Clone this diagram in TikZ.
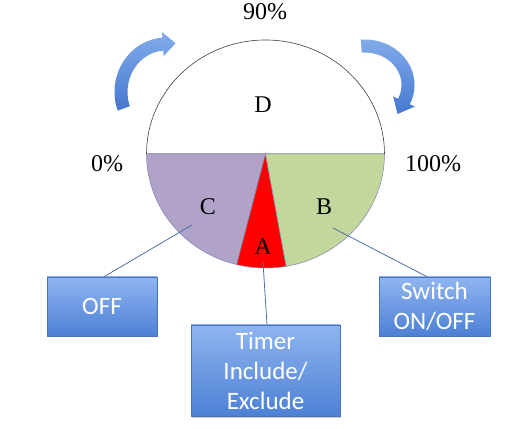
\documentclass[tikz,border=0pt]{standalone}
\usepackage{fontspec}
\setmainfont{Liberation Serif}
\newfontfamily\boxfont{Carlito}
\usetikzlibrary{calc,shadows}
\definecolor{cpurple}{HTML}{B1A2C7}
\definecolor{cgreen}{HTML}{C3D69B}
\definecolor{boxtop}{HTML}{8FB5F0}
\definecolor{boxbot}{HTML}{4D80D5}
\definecolor{boxline}{HTML}{4A72B8}
\definecolor{connc}{HTML}{4F6FA8}
\definecolor{arrlight}{HTML}{82ACEA}
\definecolor{arrdark}{HTML}{4578D0}
\definecolor{rim}{HTML}{404040}
\definecolor{sector}{HTML}{7F86B0}
\begin{document}
\begin{tikzpicture}[x=1pt,y=1pt,
  lbl/.style={font=\fontsize{24}{28}\selectfont, inner sep=0pt},
  infobox/.style={rectangle, draw=boxline, line width=0.6pt, top color=boxtop, bottom color=boxbot, text=white, font=\boxfont\fontsize{25}{30}\selectfont, align=center, inner sep=0pt, general shadow={fill=black!20, shadow xshift=1.2pt, shadow yshift=-1.5pt}},
  link/.style={draw=connc, line width=0.8pt},
  sec/.style={draw=sector, line width=0.5pt},
  bluearrow/.style={top color=arrlight, bottom color=arrdark}]
\useasboundingbox (0,0) rectangle (516,428);
\coordinate (O) at (265.5,274);
% upper half D
\filldraw[fill=white, draw=rim, line width=0.6pt] (O) -- ++(0:119 and 114) arc[start angle=0,end angle=180,x radius=119,y radius=114] -- cycle;
% lower sectors
\filldraw[fill=cpurple, sec] (O) -- ++(180:119 and 114) arc[start angle=180,end angle=256,x radius=119,y radius=114] -- cycle;
\filldraw[fill=red, sec] (O) -- ++(256:119 and 114) arc[start angle=256,end angle=280,x radius=119,y radius=114] -- cycle;
\filldraw[fill=cgreen, sec] (O) -- ++(280:119 and 114) arc[start angle=280,end angle=360,x radius=119,y radius=114] -- cycle;
% labels
\node[lbl] (p90) at (265,416) {90\%};
\node[lbl] (p0) at (107,264) {0\%};
\node[lbl] (p100) at (433,264) {100\%};
\node[lbl] (ld) at (263,323) {D};
\node[lbl] (lc) at (208,221) {C};
\node[lbl] (lb) at (324,221) {B};
\node[lbl] (la) at (263,181) {A};
% curved arrows
\coordinate (lac) at (166,336);
\shade[bluearrow] ($(lac)+(200:51.5 and 54.5)$) arc[start angle=200,end angle=94,x radius=51.5,y radius=54.5]
  -- ($(lac)+(94:57 and 60)$) -- (175.5,384.8) -- ($(lac)+(94:33 and 36)$) -- ($(lac)+(94:38.5 and 41.5)$)
  arc[start angle=94,end angle=200,x radius=38.5,y radius=41.5] -- cycle;
\coordinate (rac) at (365,343);
\shade[bluearrow] ($(rac)+(95:49.5 and 45.5)$) arc[start angle=95,end angle=-25,x radius=49.5,y radius=45.5]
  -- ($(rac)+(-25:55 and 51)$) -- (397.5,314) -- ($(rac)+(-25:31 and 27)$) -- ($(rac)+(-25:36.5 and 32.5)$)
  arc[start angle=-25,end angle=95,x radius=36.5,y radius=32.5] -- cycle;
% boxes
\node[infobox, minimum width=110pt, minimum height=59pt] (off) at (102,121.5) {OFF};
\node[infobox, minimum width=111pt, minimum height=59pt] (sw) at (434.5,121.5) {Switch\\ON/OFF};
\node[infobox, minimum width=149pt, minimum height=91pt] (timer) at (265.5,57.5) {Timer\\Include/\\Exclude};
% connectors
\coordinate (pc) at (192,203);
\coordinate (pa) at (263,166);
\coordinate (pb) at (333,200);
\draw[link] (pc) -- ($(off.north)+(2,0)$);
\draw[link] (pa) -- ($(timer.north)+(1.5,0)$);
\draw[link] (pb) -- ($(sw.north)+(-7.5,0)$);
\end{tikzpicture}
\end{document}
